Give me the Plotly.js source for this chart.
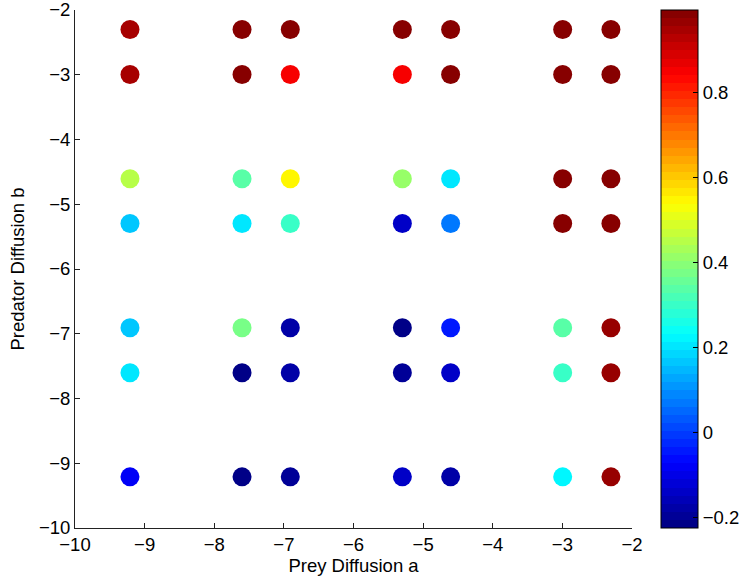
<!DOCTYPE html>
<html>
<head>
<meta charset="utf-8">
<script src="https://cdn.plot.ly/plotly-3.0.1.min.js"></script>
<style>html,body{margin:0;padding:0;background:#fff;}</style>
</head>
<body>
<div id="chart" style="width:745px;height:579px;"></div>
<script>
// Prey diffusion a (log values) and predator diffusion b (log values)
const preyA = [-9.2103, -7.6009, -6.9078, -5.2983, -4.6052, -2.9957, -2.3026];
const predB = [-2.3026, -2.9957, -4.6052, -5.2983, -6.9078, -7.6009, -9.2103];

// colour value for each (b row, a column)
const rowB2_3 = [0.94, 0.99, 0.99, 0.99, 0.99, 0.99, 0.99];
const rowB3_0 = [0.94, 0.98, 0.86, 0.86, 0.98, 0.98, 0.98];
const rowB4_6 = [0.46, 0.33, 0.54, 0.42, 0.21, 0.98, 0.98];
const rowB5_3 = [0.17, 0.21, 0.29, -0.13, 0.07, 0.98, 0.98];
const rowB6_9 = [0.17, 0.38, -0.17, -0.21, -0.05, 0.33, 0.97];
const rowB7_6 = [0.21, -0.22, -0.17, -0.20, -0.14, 0.29, 0.97];
const rowB9_2 = [-0.09, -0.21, -0.19, -0.14, -0.17, 0.22, 0.97];
const rows = [rowB2_3, rowB3_0, rowB4_6, rowB5_3, rowB6_9, rowB7_6, rowB9_2];

const cMin = -0.225, cMax = 0.994;
const cbTicks = [-0.2, 0, 0.2, 0.4, 0.6, 0.8];

// build discrete 64-level jet colorscale
function clamp(v){return Math.max(0, Math.min(1, v));}
const N = 64;
const jet = [];
for (let i = 0; i < N; i++) {
  const t = (i + 0.5) / N;
  const r = Math.round(255 * clamp(1.5 - Math.abs(4 * t - 3)));
  const g = Math.round(255 * clamp(1.5 - Math.abs(4 * t - 2)));
  const b = Math.round(255 * clamp(1.5 - Math.abs(4 * t - 1)));
  const col = `rgb(${r},${g},${b})`;
  jet.push([i / N, col]);
  jet.push([(i + 1) / N, col]);
}

const xs = [], ys = [], cs = [];
rows.forEach((row, j) => row.forEach((v, i) => {
  xs.push(preyA[i]); ys.push(predB[j]); cs.push(v);
}));

const font = {family: 'Liberation Sans, Arial, sans-serif', size: 18.5, color: '#000'};

const trace = {
  type: 'scatter', mode: 'markers', x: xs, y: ys,
  marker: {
    size: 19, color: cs, colorscale: jet, cmin: cMin, cmax: cMax,
    line: {width: 0},
    showscale: true,
    colorbar: {
      x: 1.052, xanchor: 'left', xref: 'paper', y: 0.5, yanchor: 'middle',
      len: 1, lenmode: 'fraction', thickness: 37, thicknessmode: 'pixels',
      xpad: 0, ypad: 0, outlinewidth: 1, outlinecolor: '#000',
      ticks: 'inside', ticklen: 5, tickcolor: '#000', tickvals: cbTicks,
      tickfont: font, ticklabeloverflow: 'allow'
    }
  },
  hoverinfo: 'x+y'
};

const layout = {
  width: 745, height: 579,
  margin: {l: 75, r: 113, t: 10, b: 51, autoexpand: false},
  paper_bgcolor: '#fff', plot_bgcolor: '#fff',
  font: font, showlegend: false,
  xaxis: {
    range: [-10, -2], dtick: 1, tick0: -10, showgrid: false, zeroline: false,
    showline: true, linecolor: '#222', linewidth: 1, mirror: false,
    ticks: 'inside', ticklen: 5, tickcolor: '#222', tickfont: font,
    ticklabeloverflow: 'allow',
    title: {text: 'Prey Diffusion a', font: font, standoff: 2}
  },
  yaxis: {
    range: [-10, -2], dtick: 1, tick0: -10, showgrid: false, zeroline: false,
    showline: true, linecolor: '#222', linewidth: 1, mirror: false,
    ticks: 'inside', ticklen: 5, tickcolor: '#222', tickfont: font,
    ticklabeloverflow: 'allow',
    title: {text: 'Predator Diffusion b', font: font, standoff: 9}
  }
};

Plotly.newPlot('chart', [trace], layout, {displayModeBar: false, staticPlot: true});
</script>
</body>
</html>
